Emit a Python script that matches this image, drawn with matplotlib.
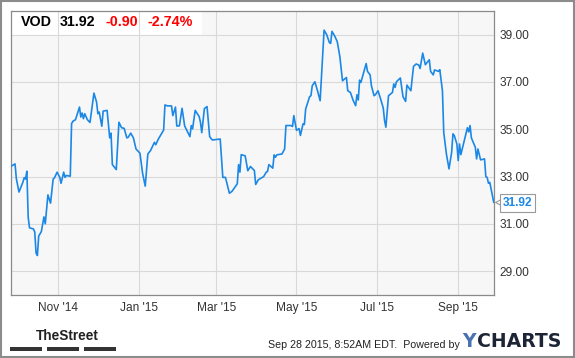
"""VOD one-year price chart, YCharts style."""
import matplotlib
matplotlib.use("Agg")
import matplotlib.pyplot as plt
import matplotlib.dates as mdates
import matplotlib.transforms as mtransforms
from matplotlib.patches import Rectangle
import pandas as pd

plt.rcParams["font.family"] = ["Liberation Sans", "DejaVu Sans"]

TICKER = "VOD"
LAST = 31.92
CHANGE = -0.90
CHANGE_PCT = -2.74

DATES = [
    "2014-09-26", "2014-09-29", "2014-09-30", "2014-10-02", "2014-10-05", "2014-10-06",
    "2014-10-07", "2014-10-08", "2014-10-09", "2014-10-10", "2014-10-13", "2014-10-14",
    "2014-10-15", "2014-10-16", "2014-10-17", "2014-10-19", "2014-10-21", "2014-10-22",
    "2014-10-24", "2014-10-26", "2014-10-28", "2014-10-29", "2014-10-31", "2014-11-02",
    "2014-11-03", "2014-11-05", "2014-11-06", "2014-11-07", "2014-11-10", "2014-11-11",
    "2014-11-12", "2014-11-14", "2014-11-17", "2014-11-18", "2014-11-19", "2014-11-20",
    "2014-11-21", "2014-11-23", "2014-11-25", "2014-11-28", "2014-11-30", "2014-12-01",
    "2014-12-02", "2014-12-04", "2014-12-05", "2014-12-08", "2014-12-10", "2014-12-11",
    "2014-12-12", "2014-12-15", "2014-12-17", "2014-12-19", "2014-12-21", "2014-12-23",
    "2014-12-24", "2014-12-26", "2014-12-28", "2014-12-30", "2015-01-02", "2015-01-04",
    "2015-01-06", "2015-01-08", "2015-01-10", "2015-01-13", "2015-01-14", "2015-01-16",
    "2015-01-20", "2015-01-21", "2015-01-23", "2015-01-26", "2015-01-27", "2015-01-29",
    "2015-01-30", "2015-02-01", "2015-02-03", "2015-02-05", "2015-02-09", "2015-02-10",
    "2015-02-11", "2015-02-13", "2015-02-16", "2015-02-17", "2015-02-18", "2015-02-20",
    "2015-02-22", "2015-02-24", "2015-02-26", "2015-03-04", "2015-03-06", "2015-03-08",
    "2015-03-11", "2015-03-13", "2015-03-17", "2015-03-18", "2015-03-19", "2015-03-20",
    "2015-03-23", "2015-03-25", "2015-03-27", "2015-03-30", "2015-03-31", "2015-04-02",
    "2015-04-06", "2015-04-08", "2015-04-09", "2015-04-10", "2015-04-13", "2015-04-14",
    "2015-04-15", "2015-04-16", "2015-04-20", "2015-04-22", "2015-04-23", "2015-04-27",
    "2015-04-28", "2015-04-29", "2015-05-01", "2015-05-03", "2015-05-04", "2015-05-06",
    "2015-05-07", "2015-05-08", "2015-05-11", "2015-05-12", "2015-05-13", "2015-05-15",
    "2015-05-17", "2015-05-19", "2015-05-22", "2015-05-24", "2015-05-26", "2015-05-27",
    "2015-05-28", "2015-05-30", "2015-06-01", "2015-06-03", "2015-06-05", "2015-06-08",
    "2015-06-09", "2015-06-11", "2015-06-13", "2015-06-15", "2015-06-16", "2015-06-17",
    "2015-06-18", "2015-06-19", "2015-06-23", "2015-06-24", "2015-06-26", "2015-06-27",
    "2015-06-29", "2015-06-30", "2015-07-02", "2015-07-04", "2015-07-06", "2015-07-07",
    "2015-07-08", "2015-07-10", "2015-07-13", "2015-07-14", "2015-07-15", "2015-07-16",
    "2015-07-19", "2015-07-21", "2015-07-23", "2015-07-24", "2015-07-27", "2015-07-29",
    "2015-07-31", "2015-08-02", "2015-08-03", "2015-08-05", "2015-08-07", "2015-08-10",
    "2015-08-11", "2015-08-13", "2015-08-14", "2015-08-17", "2015-08-18", "2015-08-20",
    "2015-08-21", "2015-08-23", "2015-08-25", "2015-08-27", "2015-08-28", "2015-08-29",
    "2015-08-31", "2015-09-01", "2015-09-02", "2015-09-03", "2015-09-08", "2015-09-09",
    "2015-09-10", "2015-09-11", "2015-09-14", "2015-09-15", "2015-09-16", "2015-09-18",
    "2015-09-21", "2015-09-22", "2015-09-23", "2015-09-24", "2015-09-25", "2015-09-28",
]

PRICES = [
    33.44, 33.54, 32.92, 32.35, 32.77, 32.96,
    32.90, 33.23, 31.29, 30.84, 30.79, 30.66,
    29.77, 29.67, 30.49, 30.68, 31.30, 31.01,
    32.23, 31.88, 32.90, 32.95, 33.19, 32.97,
    32.72, 33.19, 32.97, 33.05, 33.02, 35.24,
    35.34, 35.41, 35.94, 35.52, 35.69, 35.45,
    35.66, 35.41, 35.29, 36.53, 36.15, 35.66,
    35.73, 35.13, 35.77, 35.80, 34.64, 34.84,
    33.51, 33.30, 35.30, 35.07, 35.04, 34.64,
    34.66, 34.84, 34.64, 34.17, 33.99, 33.14,
    32.60, 33.96, 34.10, 34.45, 34.35, 34.59,
    34.97, 36.03, 35.99, 35.99, 35.58, 35.94,
    35.14, 35.15, 35.89, 35.14, 34.69, 35.16,
    35.02, 35.80, 35.54, 35.30, 34.86, 35.88,
    35.96, 34.69, 34.55, 34.59, 32.97, 32.97,
    32.30, 32.38, 32.70, 33.51, 33.19, 33.93,
    33.88, 33.25, 33.43, 33.26, 32.67, 32.87,
    33.00, 33.19, 33.22, 33.51, 33.36, 33.92,
    33.82, 33.92, 33.96, 34.17, 35.16, 35.16,
    35.12, 35.58, 34.96, 35.03, 34.74, 35.23,
    35.20, 35.86, 36.38, 36.42, 36.84, 37.01,
    36.63, 36.21, 39.19, 39.00, 38.67, 38.63,
    39.14, 38.95, 38.71, 38.07, 37.05, 37.19,
    36.63, 36.56, 36.24, 36.00, 36.46, 36.24,
    37.08, 36.98, 37.78, 37.45, 37.30, 36.84,
    36.42, 36.46, 36.63, 36.28, 35.90, 35.37,
    35.09, 36.42, 36.56, 36.92, 36.77, 37.01,
    37.17, 36.38, 36.18, 36.87, 36.63, 37.66,
    37.76, 37.72, 37.57, 38.22, 37.73, 37.94,
    37.45, 37.30, 37.51, 37.45, 37.52, 36.63,
    34.87, 33.96, 33.33, 34.03, 34.81, 34.74,
    34.38, 33.68, 34.38, 33.93, 35.07, 34.89,
    35.16, 34.64, 34.24, 33.75, 34.17, 33.71,
    33.75, 33.00, 32.97, 32.72, 32.76, 31.92,
]

Y_TICKS = [29, 31, 33, 35, 37, 39]

W, H = 575, 358
LINE_BLUE = "#1b88e6"

fig = plt.figure(figsize=(W / 100, H / 100), dpi=100)
fig.patch.set_facecolor("white")


def fx(px):
    return px / W


def fy(py):
    return 1 - py / H


ax = fig.add_axes([fx(10.7), fy(295), fx(494) - fx(10.7), fy(11) - fy(295)])
ax.set_facecolor("#f7f7f7")

dates = pd.to_datetime(DATES)
ax.plot(dates, PRICES, color=LINE_BLUE, lw=1.2, zorder=3, solid_joinstyle="round")

ax.set_xlim(pd.Timestamp("2014-09-25 17:00"), pd.Timestamp("2015-09-28 05:00"))
ax.set_ylim(28, 40)
ax.set_yticks(Y_TICKS)
ax.yaxis.set_major_formatter(matplotlib.ticker.FormatStrFormatter("%.2f"))
ax.yaxis.tick_right()
ax.xaxis.set_major_locator(mdates.MonthLocator(bymonth=[1, 3, 5, 7, 9, 11]))
ax.xaxis.set_major_formatter(mdates.DateFormatter("%b '%y"))
ax.tick_params(axis="y", length=0, pad=4, labelsize=8.6, labelcolor="#333333")
ax.tick_params(axis="x", length=0, pad=5, labelsize=8.6, labelcolor="#333333")
ax.set_axisbelow(True)
ax.grid(True, color="#d9d9d9", lw=0.8)
for s in ax.spines.values():
    s.set_color("#8a8a8a")
    s.set_linewidth(0.9)

# header strip (white, under the grid)
trans = mtransforms.blended_transform_factory(ax.transAxes, ax.transData)
ax.add_patch(Rectangle((0, 39), (202 - 10.7) / 483.3, 1, transform=trans,
                       facecolor="white", edgecolor="none", zorder=0.2))

fig.text(fx(21), fy(22.5), TICKER, fontsize=10.3, fontweight="bold", va="center")
fig.text(fx(60), fy(22.5), f"{LAST:.2f}", fontsize=10.3, fontweight="bold", va="center")
fig.text(fx(105), fy(22.5), f"{CHANGE:.2f}", fontsize=10.3, fontweight="bold",
         color="#ff0000", va="center")
fig.text(fx(147), fy(22.5), f"{CHANGE_PCT:.2f}%", fontsize=10.3, fontweight="bold",
         color="#ff0000", va="center")

# last price flag
ax.plot([1.0075], [LAST], marker="<", ms=5, mfc="white", mec="#999999", mew=0.8,
        transform=trans, clip_on=False, zorder=5)
fig.text(fx(502.5), fy(203), f"{LAST:.2f}", fontsize=8.6, fontweight="bold",
         color=LINE_BLUE, va="center",
         bbox=dict(boxstyle="square,pad=0.22", fc="white", ec="#999999", lw=0.8))

# footer
fig.text(fx(36), fy(336), "TheStreet", fontsize=9.8, fontweight="bold",
         va="center", color="#222222")
for x0, x1 in [(10, 42), (47, 79), (84, 116)]:
    fig.patches.append(Rectangle((fx(x0), fy(351)), fx(x1) - fx(x0), fy(347) - fy(351),
                                 transform=fig.transFigure, facecolor="#333333",
                                 edgecolor="none"))
fig.text(fx(268), fy(345), "Sep 28 2015, 8:52AM EDT.  Powered by", fontsize=7.7,
         va="center", color="#222222")
fig.text(fx(462), fy(341.5), "Y", fontsize=13.6, fontweight="bold", family="DejaVu Sans",
         va="center", color="#4a72b0")
fig.text(fx(476.5), fy(341.5), "CHARTS", fontsize=13.6, fontweight="bold",
         family="DejaVu Sans", va="center", color="#1c2436")

# outer border
fig.patches.append(Rectangle((0.001, 0.002), 0.997, 0.996, transform=fig.transFigure,
                             facecolor="none", edgecolor="#8c8c8c", lw=1.5))

fig.savefig("out.png", dpi=100)
